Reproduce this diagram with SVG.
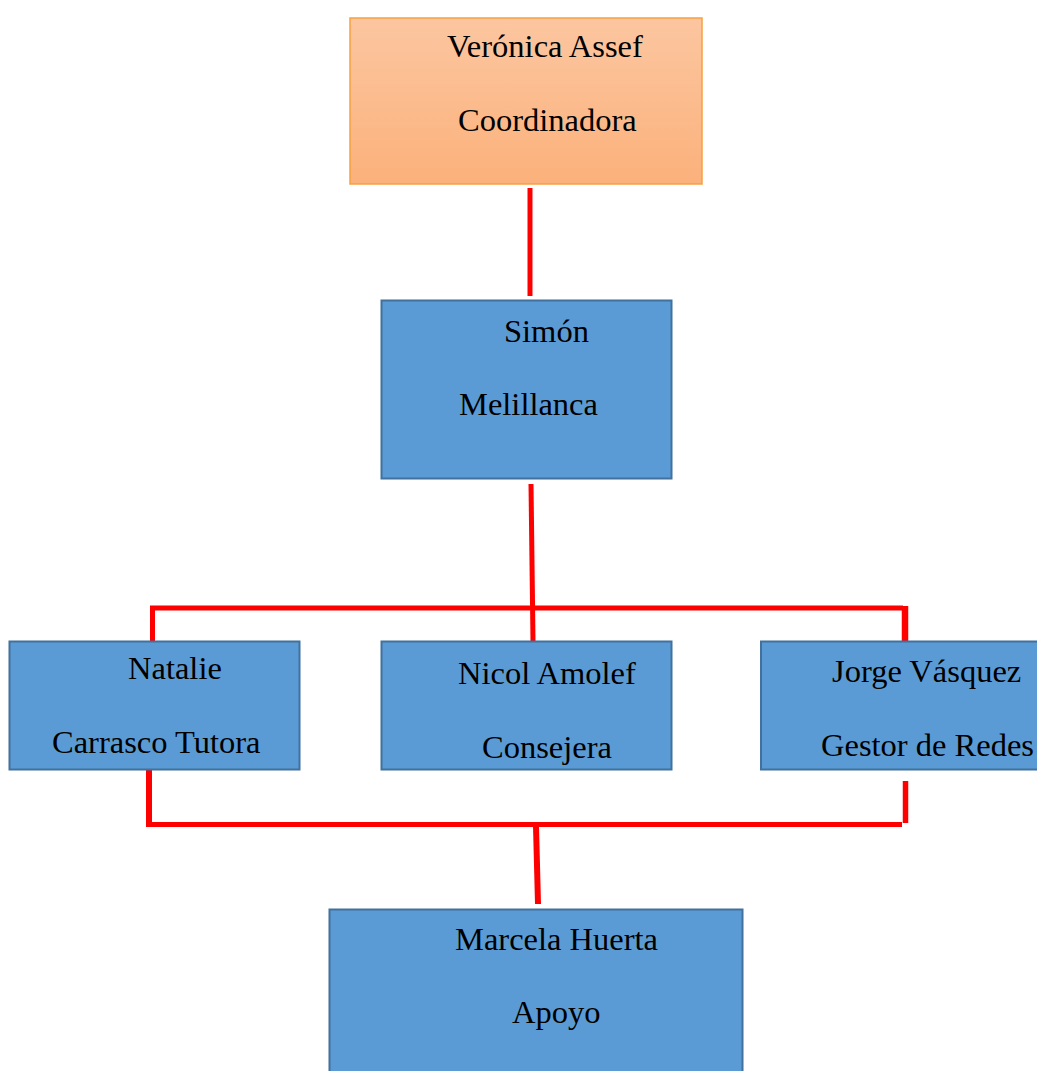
<svg xmlns="http://www.w3.org/2000/svg" width="1037" height="1071" viewBox="0 0 1037 1071">
<defs>
<linearGradient id="orangeGrad" x1="0" y1="0" x2="0" y2="1">
<stop offset="0" stop-color="#FCC6A0"/>
<stop offset="1" stop-color="#FBB17B"/>
</linearGradient>
</defs>
<style>
.box{fill:#5B9BD5;stroke:#41719C;stroke-width:2}
.top{fill:url(#orangeGrad);stroke:#F7A040;stroke-width:1.5}
.t{font-family:"Liberation Serif","Times New Roman",serif;font-size:32.5px;fill:#000}
.c{stroke:#FF0000;stroke-width:5;fill:none;stroke-linecap:butt}
</style>
<rect width="1037" height="1071" fill="#FFFFFF"/>
<g id="connectors">
<line class="c" x1="530" y1="188" x2="530" y2="296"/>
<line class="c" x1="531" y1="484" x2="533" y2="641"/>
<polyline class="c" points="152.5,641 152.5,608 903,608"/>
<line class="c" x1="905" y1="606" x2="905" y2="641" style="stroke-width:6.5"/>
<polyline class="c" points="149.5,770 149.5,824.5 902,824.5" />
<line class="c" x1="148" y1="770" x2="148" y2="827" style="stroke-width:4"/>
<line class="c" x1="905.5" y1="781" x2="905.5" y2="823" style="stroke-width:5.5"/>
<line class="c" x1="536" y1="826" x2="538" y2="904" style="stroke-width:6"/>
</g>
<g id="node-veronica">
<rect class="top" x="350" y="18" width="352" height="166"/>
<text class="t" x="447" y="57">Verónica Assef</text>
<text class="t" x="458" y="131">Coordinadora</text>
</g>
<g id="node-simon">
<rect class="box" x="381.5" y="300.5" width="290" height="178"/>
<text class="t" x="504" y="341.5">Simón</text>
<text class="t" x="459" y="415">Melillanca</text>
</g>
<g id="node-natalie">
<rect class="box" x="9.5" y="641.5" width="290" height="128"/>
<text class="t" x="128" y="679">Natalie</text>
<text class="t" x="52" y="752.5">Carrasco Tutora</text>
</g>
<g id="node-nicol">
<rect class="box" x="381.5" y="641.5" width="290" height="128"/>
<text class="t" x="458" y="684">Nicol Amolef</text>
<text class="t" x="482" y="758">Consejera</text>
</g>
<g id="node-jorge">
<rect class="box" x="761" y="641.5" width="290" height="128"/>
<text class="t" x="832" y="681.5">Jorge Vásquez</text>
<text class="t" x="821" y="755.5">Gestor de Redes</text>
</g>
<g id="node-marcela">
<rect class="box" x="329.5" y="909.5" width="413" height="175"/>
<text class="t" x="455" y="950">Marcela Huerta</text>
<text class="t" x="512" y="1023">Apoyo</text>
</g>
</svg>
